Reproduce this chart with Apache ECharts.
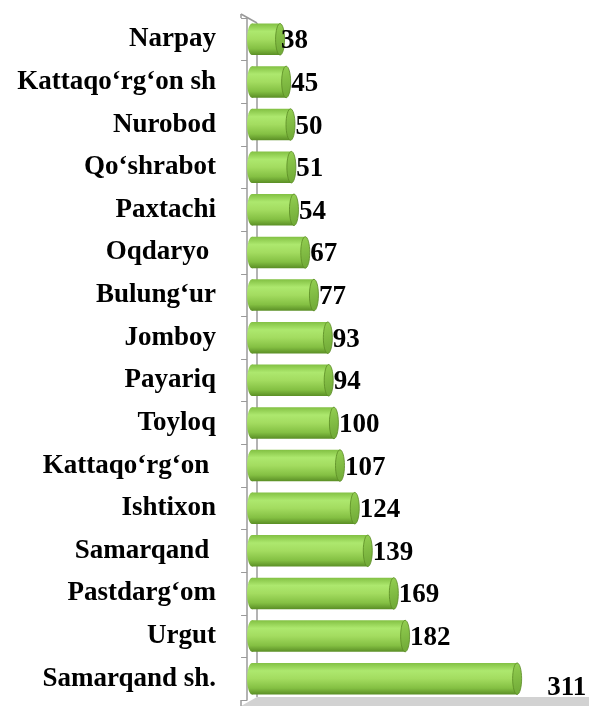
<!DOCTYPE html>
<html><head><meta charset="utf-8">
<script src="https://cdn.jsdelivr.net/npm/echarts@6/dist/echarts.min.js"></script>
<style>html,body{margin:0;padding:0;background:#fff}#c{width:589px;height:706px}</style>
</head><body><div id="c"></div>
<script>
var categories = ["Narpay","Kattaqo‘rg‘on sh","Nurobod","Qo‘shrabot","Paxtachi","Oqdaryo ","Bulung‘ur","Jomboy","Payariq","Toyloq","Kattaqo‘rg‘on ","Ishtixon","Samarqand ","Pastdarg‘om","Urgut","Samarqand sh."];
var values = [38,45,50,51,54,67,77,93,94,100,107,124,139,169,182,311];

var chart = echarts.init(document.getElementById('c'), null, {renderer:'canvas'});
var font = '"Liberation Serif","Times New Roman",serif';
var bodyGrad = new echarts.graphic.LinearGradient(0,0,0,1,[
  {offset:0,color:'#82c043'},{offset:0.25,color:'#ade86e'},{offset:0.5,color:'#a3dc60'},
  {offset:0.8,color:'#84c043'},{offset:1,color:'#5a8e25'}]);
var capGrad = new echarts.graphic.LinearGradient(0,0,1,1,[
  {offset:0,color:'#94d052'},{offset:1,color:'#6ea735'}]);

function renderItem(params, api){
  var idx = api.value(0), v = api.value(1);
  var s = api.coord([0, idx]), e = api.coord([v, idx]);
  var h = api.size([0,1])[1]*0.74;
  var r = 5;
  var last = idx === categories.length-1;
  return {type:'group', children:[
    {type:'ellipse', shape:{cx:s[0]+r, cy:s[1], rx:r, ry:h/2}, style:{fill:bodyGrad}},
    {type:'rect', shape:{x:s[0]+r, y:s[1]-h/2, width:e[0]-s[0]-r, height:h}, style:{fill:bodyGrad}},
    {type:'ellipse', shape:{cx:e[0], cy:e[1], rx:4.5, ry:h/2}, style:{fill:capGrad, stroke:'#5a8a25', lineWidth:0.8}},
    {type:'text', x: last ? e[0]+30 : e[0]+(v<40?1:5), y: e[1]+(last?9:2),
      style:{text:String(v), font:'bold 27px '+font, fill:'#000', textVerticalAlign:'middle', textAlign:'left'}}
  ]};
}

chart.setOption({
  animation:false,
  grid:{left:241, right:38, top:18, bottom:6, containLabel:false},
  xAxis:{type:'value', min:-7, max:350, show:false},
  yAxis:{type:'category', data:categories, inverse:true,
    axisLine:{show:true, lineStyle:{color:'#9a9a9a', width:1.5}},
    axisTick:{show:true, length:6, lineStyle:{color:'#9a9a9a'}},
    axisLabel:{margin:25, color:'#000', fontFamily:font, fontWeight:'bold', fontSize:27}},
  graphic:[
    {type:'polygon', z:-1, shape:{points:[[241,706],[257,697],[589,697],[589,706]]}, style:{fill:'#d2d2d2'}},
    {type:'line', z:-1, shape:{x1:241,y1:700,x2:241,y2:706}, style:{stroke:'#9a9a9a', lineWidth:1.5}},
    {type:'line', z:-1, shape:{x1:257,y1:23,x2:257,y2:697}, style:{stroke:'#9a9a9a', lineWidth:1.5}},
    {type:'line', z:-1, shape:{x1:241,y1:14,x2:257,y2:23}, style:{stroke:'#9a9a9a', lineWidth:1.5}},
    {type:'line', z:-1, shape:{x1:241,y1:14,x2:241,y2:18}, style:{stroke:'#9a9a9a', lineWidth:1.5}}
  ],
  series:[{type:'custom', renderItem:renderItem,
    data: values.map(function(v,i){return [i,v];}),
    encode:{x:1, y:0}}]
});
</script></body></html>
